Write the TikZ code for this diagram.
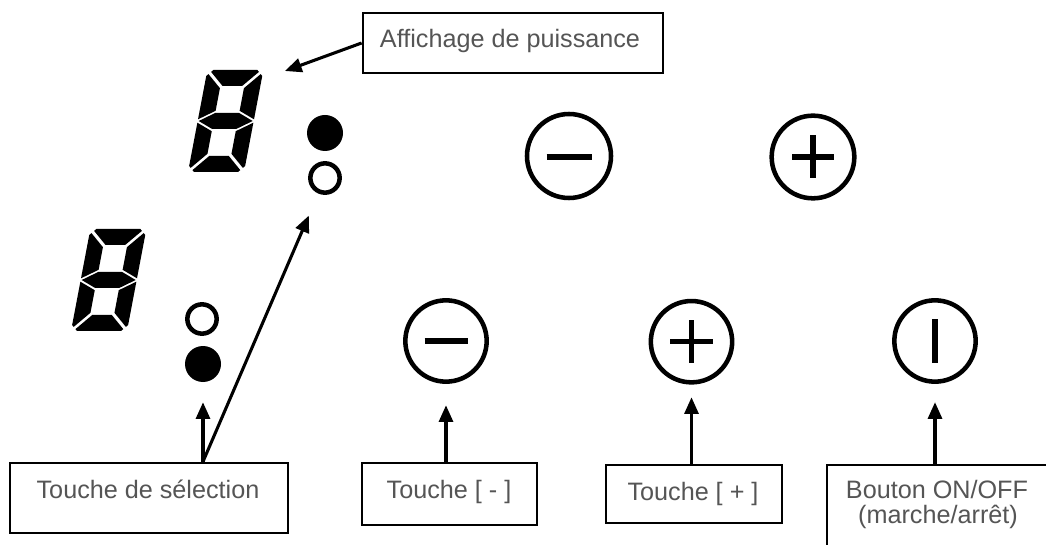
\documentclass[tikz,border=0pt]{standalone}
\usepackage{fontspec}
\setmainfont{Liberation Sans}
\usetikzlibrary{arrows.meta,calc}
\definecolor{txt}{RGB}{85,85,85}
% digit geometry (upright units, y up): W=56, H=102, M=51, T=16, h=8, b=6, g=2.2, g2=1
\newcommand\dtopseg{\fill (6,102) -- (4.1,100.1) -- (18.2,86) -- (37.8,86) -- (51.9,100.1) -- (50,102) -- cycle;}
\newcommand\dvseg{\fill (0,96) -- (1.9,97.9) -- (16,83.8) -- (16,61.2) -- (0,52.7) -- cycle;}
\newcommand\dmidseg{\fill (1,51) -- (16,59) -- (40,59) -- (55,51) -- (40,43) -- (16,43) -- cycle;}
\newcommand\sevenseg[2]{\begin{scope}[shift={(#1,#2)},y=0.75pt,xslant=0.19]
\dtopseg \dmidseg \dvseg
\begin{scope}[yshift=76.5pt,yscale=-1]\dtopseg\dvseg\end{scope}
\begin{scope}[xshift=42pt,xscale=-1]\dvseg\end{scope}
\begin{scope}[xshift=42pt,yshift=76.5pt,scale=-1]\dvseg\end{scope}
\end{scope}}
\begin{document}
\begin{tikzpicture}[x=0.75pt,y=-0.75pt,
  box/.style={draw, rectangle, line width=2.1pt, inner sep=0pt},
  lbl/.style={text=txt, font=\fontsize{18.9}{23}\selectfont, inner sep=0pt},
  arr/.style={-{Triangle[length=12.5pt,width=10.5pt]}, line width=2.3pt},
  btn/.style={circle, draw, line width=3.4pt, inner sep=0pt},
  sym/.style={line width=4pt},
  dotf/.style={circle, fill, inner sep=0pt, minimum size=27pt},
  doto/.style={circle, draw, line width=3.4pt, inner sep=0pt, minimum size=22pt}]
\useasboundingbox (0,0) rectangle (1046,545);
\clip (0,0) rectangle (1046,545);
\fill[white] (0,0) rectangle (1046,545);

% seven-segment displays
\sevenseg{188}{172}
\sevenseg{71}{331}

% indicator dots
\node[dotf] (sdT) at (325,133) {};
\node[doto] (soT) at (325,178) {};
\node[doto] (soB) at (202,319) {};
\node[dotf] (sdB) at (203,364) {};

% buttons
\node[btn, minimum size=63pt] (tm) at (569,156) {};
\draw[sym] ($(tm)+(-22.5,1)$) -- ($(tm)+(22.5,1)$);
\node[btn, minimum size=62pt] (tp) at (813,157) {};
\draw[sym] ($(tp)+(-21,0)$) -- ($(tp)+(21,0)$);
\draw[sym] ($(tp)+(0,-21.5)$) -- ($(tp)+(0,21.5)$);
\node[btn, minimum size=61pt] (mB) at (446,341) {};
\draw[sym] ($(mB)+(-21.5,0)$) -- ($(mB)+(21.5,0)$);
\node[btn, minimum size=61pt] (pB) at (691.5,341.7) {};
\draw[sym] ($(pB)+(-21.5,0)$) -- ($(pB)+(21.5,0)$);
\draw[sym] ($(pB)+(0,-21.5)$) -- ($(pB)+(0,21.5)$);
\node[btn, minimum size=61pt] (oB) at (935,341) {};
\draw[sym] ($(oB)+(0,-21.5)$) -- ($(oB)+(0,21.5)$);

% label boxes
\node[box, minimum width=225pt, minimum height=45pt] (aff) at (513,43) {};
\node[lbl, anchor=base] at (510,48) {Affichage de puissance};
\node[box, minimum width=208.5pt, minimum height=52.5pt] (sel) at (149,498) {};
\node[lbl, anchor=base] at (148,498) {Touche de sélection};
\node[box, minimum width=131.25pt, minimum height=46.5pt] (mbox) at (449.5,494) {};
\node[lbl, anchor=base] at (449,498) {Touche [ - ]};
\node[box, minimum width=132pt, minimum height=43.5pt] (pbox) at (694,494) {};
\node[lbl, anchor=base] at (693,500) {Touche [ + ]};
\node[box, minimum width=182.25pt, minimum height=78.75pt] (obox) at (948.5,517.5) {};
\node[lbl, anchor=base] at (937,498) {Bouton ON/OFF};
\node[lbl, anchor=base] at (938,523) {(marche/arrêt)};

% connectors
\coordinate (dtip) at (285,71);
\draw[arr] (aff.west) -- (dtip);
\draw[arr, shorten >=15pt] (sel.north -| sdB) -- (sdB);
\draw[arr, shorten >=18pt] (sel.north -| sdB) -- (soT);
\draw[arr, shorten >=16pt] (mbox.north -| mB) -- (mB);
\draw[arr, shorten >=9.5pt] (pbox.north -| pB) -- (pB);
\draw[arr, shorten >=13.7pt] (obox.north -| oB) -- (oB);
\end{tikzpicture}
\end{document}
